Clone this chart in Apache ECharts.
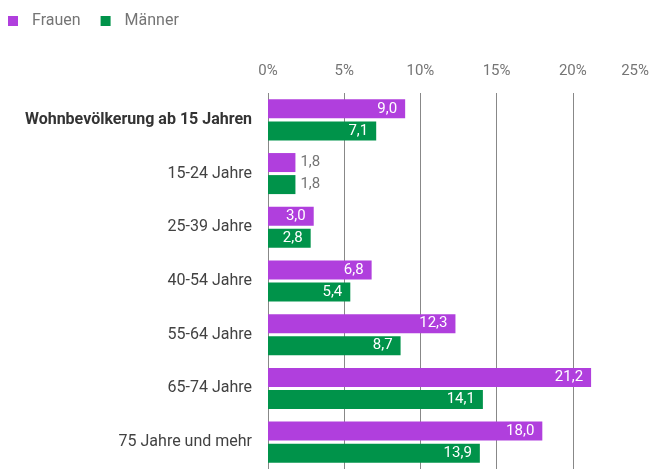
<!DOCTYPE html>
<html>
<head>
<meta charset="utf-8">
<script src="https://cdn.jsdelivr.net/npm/echarts@6/dist/echarts.min.js"></script>
<style>
  html, body {margin: 0; padding: 0; background: #fff;}
  #chart {width: 649px; height: 472px;}
</style>
</head>
<body>
<div id="chart"></div>
<script>
// Altersgruppen, von oben nach unten
const categories = ['Wohnbevölkerung ab 15 Jahren', '15-24 Jahre', '25-39 Jahre', '40-54 Jahre', '55-64 Jahre', '65-74 Jahre', '75 Jahre und mehr'];
const frauen = [9.0, 1.8, 3.0, 6.8, 12.3, 21.2, 18.0];
const maenner = [7.1, 1.8, 2.8, 5.4, 8.7, 14.1, 13.9];
const ticks = [0, 5, 10, 15, 20, 25];

const fmt = v => v.toFixed(1).replace('.', ',');

// kleine Balken: Beschriftung ausserhalb, grau
function toData(arr) {
    return arr.map(v => {
        if (v < 2.5) {
            return {value: v, label: {position: 'right', color: '#757575', distance: 5}};
        }
        return {value: v};
    });
}

const chart = echarts.init(document.getElementById('chart'));
const barLabel = {
    show: true,
    position: 'insideRight',
    distance: 8,
    color: '#fff',
    fontFamily: 'Roboto',
    fontSize: 15,
    formatter: p => fmt(p.value)
};

const option = {
    animation: false,
    textStyle: {fontFamily: 'Roboto'},
    legend: {
        left: 3,
        top: 8,
        itemWidth: 10,
        itemHeight: 10,
        itemGap: 20,
        icon: 'rect',
        textStyle: {color: '#757575', fontSize: 16, fontFamily: 'Roboto', padding: [0, 0, 0, 9]},
        data: ['Frauen', 'Männer']
    },
    grid: {left: 268, right: 0, top: 93, bottom: 3, containLabel: false, outerBoundsMode: 'none'},
    xAxis: {
        type: 'value',
        position: 'top',
        min: 0,
        max: 25,
        interval: 5,
        axisLine: {show: false},
        axisTick: {show: false},
        splitLine: {lineStyle: {color: '#888', width: 1}},
        axisLabel: {
            color: '#757575',
            fontSize: 15,
            margin: 14,
            alignMaxLabel: 'right',
            formatter: v => ticks.includes(v) ? v + '%' : ''
        }
    },
    yAxis: {
        type: 'category',
        inverse: true,
        data: categories,
        axisLine: {show: false},
        axisTick: {show: false},
        axisLabel: {
            color: '#424242',
            fontSize: 16,
            margin: 16,
            formatter: (v, i) => i === 0 ? '{b|' + v + '}' : v,
            rich: {b: {fontWeight: 'bold', fontSize: 16, color: '#333', fontFamily: 'Roboto'}}
        }
    },
    series: [
        {
            name: 'Frauen',
            type: 'bar',
            data: toData(frauen),
            barWidth: 19,
            barGap: '16%',
            itemStyle: {color: '#B03FDD'},
            label: barLabel
        },
        {
            name: 'Männer',
            type: 'bar',
            data: toData(maenner),
            barWidth: 19,
            itemStyle: {color: '#00934A'},
            label: barLabel
        }
    ]
};
chart.setOption(option);
</script>
</body>
</html>
